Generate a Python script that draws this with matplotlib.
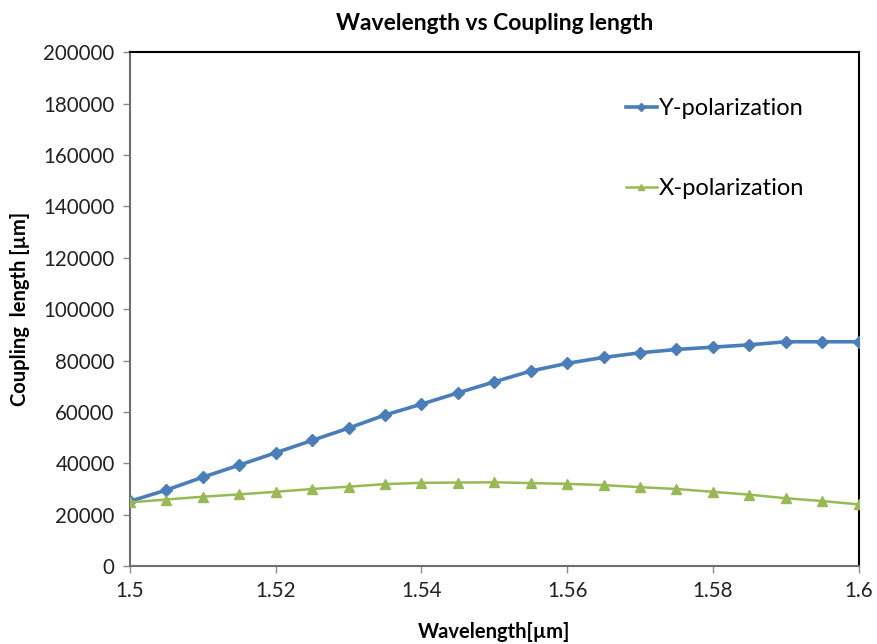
import matplotlib
matplotlib.use("Agg")
import matplotlib.pyplot as plt
from matplotlib.ticker import FixedLocator

plt.rcParams['font.family'] = ['Lato', 'DejaVu Sans']

wavelength = [1.500, 1.505, 1.510, 1.515, 1.520, 1.525, 1.530, 1.535, 1.540, 1.545,
              1.550, 1.555, 1.560, 1.565, 1.570, 1.575, 1.580, 1.585, 1.590, 1.595, 1.600]
y_pol = [25200, 29600, 34600, 39300, 44100, 48900, 53700, 58800, 63000, 67400,
         71700, 75900, 78900, 81200, 83000, 84300, 85200, 86100, 87300, 87300, 87300]
x_pol = [24800, 25900, 27000, 27900, 28900, 30000, 30900, 31900, 32400, 32500,
         32600, 32300, 32000, 31500, 30700, 30000, 28900, 27800, 26400, 25300, 24000]

x_ticks = [1.50, 1.52, 1.54, 1.56, 1.58, 1.60]
x_tick_labels = ["1.5", "1.52", "1.54", "1.56", "1.58", "1.6"]
y_ticks = list(range(0, 200001, 20000))

fig = plt.figure(figsize=(8.78, 6.44), dpi=100)
ax = fig.add_axes([0.148, 0.121, 0.830, 0.798])

ax.plot(wavelength, y_pol, color='#4A7EBB', lw=2.6, marker='D', ms=6.5,
        label='Y-polarization', zorder=3)
ax.plot(wavelength, x_pol, color='#98B954', lw=1.8, marker='^', ms=7,
        label='X-polarization', zorder=3)

ax.set_xlim(1.5, 1.6)
ax.set_ylim(0, 200000)
ax.xaxis.set_major_locator(FixedLocator(x_ticks))
ax.set_xticklabels(x_tick_labels)
ax.yaxis.set_major_locator(FixedLocator(y_ticks))
ax.set_yticklabels([str(v) for v in y_ticks])

for s in ['top', 'right']:
    ax.spines[s].set_color('black')
    ax.spines[s].set_linewidth(1.5)
for s in ['left', 'bottom']:
    ax.spines[s].set_color('#6e6e6e')
    ax.spines[s].set_linewidth(1.5)
ax.tick_params(axis='both', direction='out', length=5, width=1, color='#8c8c8c',
               labelsize=14.8, labelcolor='#222222', pad=6)

ax.set_title('Wavelength vs Coupling length', fontsize=16.5, fontweight='bold', pad=16)
ax.set_xlabel('Wavelength[µm]', fontsize=14.5, fontweight='bold', labelpad=15)
ax.set_ylabel('Coupling  length [µm]', fontsize=14.5, fontweight='bold', labelpad=10)

leg = fig.legend(handles=ax.get_lines(), loc='upper left',
                 bbox_to_anchor=(0.713, 0.848), frameon=False,
                 fontsize=17, labelspacing=2.5, handlelength=1.3, handletextpad=0.1,
                 markerscale=0.6, borderaxespad=0, borderpad=0)

fig.savefig('out.png', dpi=100)
